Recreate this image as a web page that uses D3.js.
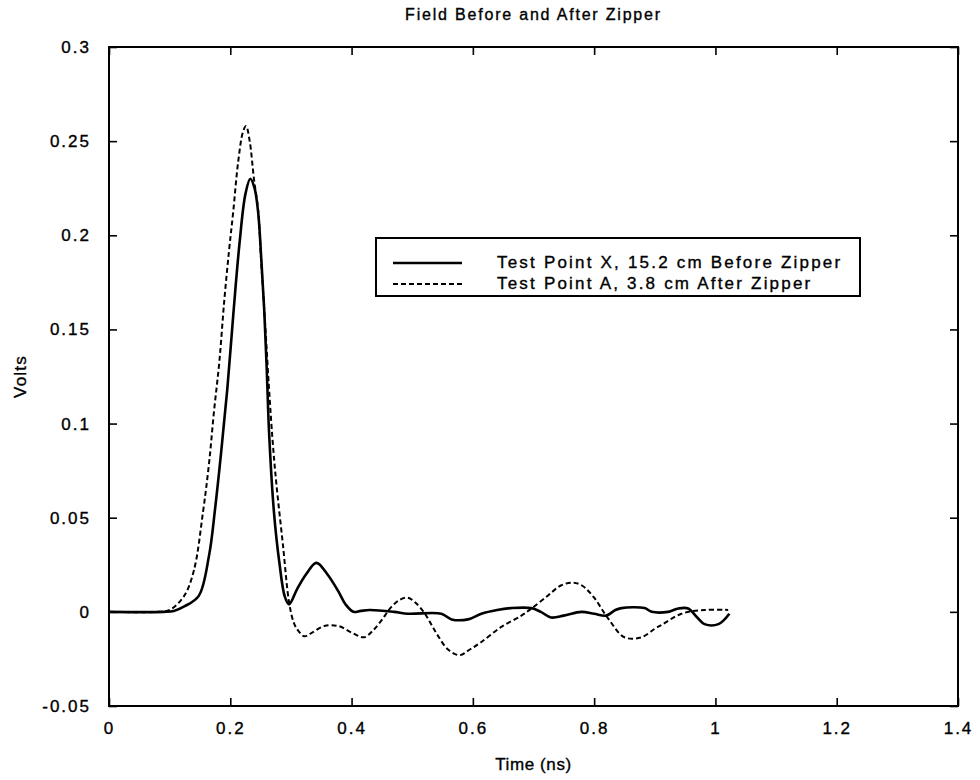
<!DOCTYPE html>
<html>
<head>
<meta charset="utf-8">
<script src="https://cdn.jsdelivr.net/npm/d3@7"></script>
<style>
  body { margin: 0; background: #fff; }
  text { font-family: "Liberation Sans", Arial, sans-serif; fill: #000; stroke: #000; stroke-width: 0.35px; }
</style>
</head>
<body>
<div id="chart"></div>
<script>
// Test Point X (solid), 15.2 cm before zipper
const timeX = [0, 0.09, 0.107, 0.125, 0.148, 0.165, 0.175, 0.185, 0.195, 0.205, 0.215, 0.225, 0.233, 0.24, 0.246, 0.251, 0.256, 0.26, 0.264, 0.272, 0.281, 0.29, 0.297, 0.31, 0.325, 0.342, 0.36, 0.378, 0.39, 0.403, 0.415, 0.43, 0.47, 0.493, 0.548, 0.565, 0.592, 0.614, 0.64, 0.663, 0.696, 0.712, 0.729, 0.75, 0.779, 0.8, 0.82, 0.835, 0.845, 0.883, 0.895, 0.922, 0.939, 0.955, 0.97, 0.982, 1.005, 1.023];
const voltsX = [0, 0, 0.0005, 0.003, 0.0085, 0.030, 0.055, 0.085, 0.118, 0.158, 0.195, 0.222, 0.230, 0.225, 0.212, 0.188, 0.160, 0.130, 0.095, 0.053, 0.026, 0.008, 0.004, 0.012, 0.020, 0.026, 0.020, 0.011, 0.004, 0.000, 0.0005, 0.001, 0.000, -0.001, -0.001, -0.004, -0.004, -0.001, 0.001, 0.002, 0.002, 0, -0.003, -0.002, 0, -0.001, -0.002, 0.001, 0.002, 0.002, 0, 0, 0.0018, 0.0018, -0.003, -0.0065, -0.0065, -0.001];

// Test Point A (dashed), 3.8 cm after zipper
const timeA = [0, 0.08, 0.1, 0.124, 0.14, 0.155, 0.165, 0.173, 0.182, 0.19, 0.198, 0.205, 0.213, 0.221, 0.226, 0.232, 0.239, 0.246, 0.251, 0.258, 0.264, 0.27, 0.276, 0.287, 0.297, 0.305, 0.312, 0.322, 0.335, 0.355, 0.378, 0.4, 0.421, 0.435, 0.449, 0.465, 0.48, 0.493, 0.505, 0.52, 0.532, 0.543, 0.559, 0.578, 0.595, 0.614, 0.647, 0.68, 0.696, 0.724, 0.745, 0.765, 0.78, 0.8, 0.823, 0.85, 0.878, 0.9, 0.911, 0.944, 0.982, 1.021];
const voltsA = [0, 0, 0.001, 0.0085, 0.022, 0.053, 0.079, 0.106, 0.133, 0.165, 0.192, 0.213, 0.239, 0.255, 0.258, 0.250, 0.230, 0.213, 0.186, 0.150, 0.118, 0.090, 0.068, 0.035, 0.005, -0.006, -0.010, -0.013, -0.011, -0.0075, -0.0075, -0.011, -0.0135, -0.010, -0.0047, 0.0024, 0.0065, 0.0075, 0.005, -0.0005, -0.007, -0.013, -0.020, -0.023, -0.020, -0.016, -0.008, -0.002, 0.0016, 0.0087, 0.014, 0.0155, 0.014, 0.0075, -0.0035, -0.0135, -0.0135, -0.009, -0.007, -0.001, 0.001, 0.001];

const xTicks = [0, 0.2, 0.4, 0.6, 0.8, 1, 1.2, 1.4];
const yTicks = [-0.05, 0, 0.05, 0.1, 0.15, 0.2, 0.25, 0.3];
const legendLabels = ["Test Point X, 15.2 cm Before Zipper", "Test Point A, 3.8 cm After Zipper"];

const W = 980, H = 780;
const margin = {top: 47, right: 22, bottom: 74, left: 109};
const width = W - margin.left - margin.right;
const height = H - margin.top - margin.bottom;

const svg = d3.select("#chart").append("svg")
    .attr("width", W)
    .attr("height", H);

const g = svg.append("g")
    .attr("transform", `translate(${margin.left},${margin.top})`);

const x = d3.scaleLinear().domain([0, 1.4]).range([0, width]);
const y = d3.scaleLinear().domain([-0.05, 0.3]).range([height, 0]);

const fmt = d => String(+d.toFixed(2));
const tickLen = 8;

// frame
g.append("rect")
    .attr("width", width).attr("height", height)
    .attr("fill", "none").attr("stroke", "#000").attr("stroke-width", 2);

// axes with inward ticks
const styleAxis = sel => {
  sel.select(".domain").remove();
  sel.selectAll(".tick line").attr("stroke", "#000").attr("stroke-width", 1.6);
  sel.selectAll(".tick text")
     .style("font-size", "17px").style("letter-spacing", "2px");
};

g.append("g").attr("transform", `translate(0,${height})`)
  .call(d3.axisBottom(x).tickValues(xTicks).tickFormat(fmt).tickSizeInner(-tickLen).tickPadding(tickLen + 8))
  .call(styleAxis);
g.append("g")
  .call(d3.axisLeft(y).tickValues(yTicks).tickFormat(fmt).tickSizeInner(-tickLen).tickPadding(tickLen + 10))
  .call(styleAxis);
g.append("g")
  .call(d3.axisTop(x).tickValues(xTicks).tickFormat("").tickSizeInner(-tickLen))
  .call(styleAxis);
g.append("g").attr("transform", `translate(${width},0)`)
  .call(d3.axisRight(y).tickValues(yTicks).tickFormat("").tickSizeInner(-tickLen))
  .call(styleAxis);

// curves
const line = d3.line()
    .x(d => x(d[0]))
    .y(d => y(d[1]))
    .curve(d3.curveCatmullRom.alpha(0.5));

g.append("path")
    .datum(timeA.map((t, i) => [t, voltsA[i]]))
    .attr("d", line)
    .attr("fill", "none").attr("stroke", "#000")
    .attr("stroke-width", 2).attr("stroke-dasharray", "5,3");

g.append("path")
    .datum(timeX.map((t, i) => [t, voltsX[i]]))
    .attr("d", line)
    .attr("fill", "none").attr("stroke", "#000")
    .attr("stroke-width", 2.6);

// titles
svg.append("text")
    .attr("x", margin.left + width / 2).attr("y", 20)
    .attr("text-anchor", "middle")
    .style("font-size", "16px").style("letter-spacing", "1.8px")
    .text("Field Before and After Zipper");

svg.append("text")
    .attr("x", margin.left + width / 2).attr("y", 770)
    .attr("text-anchor", "middle")
    .style("font-size", "17px").style("letter-spacing", "0.6px")
    .text("Time (ns)");

svg.append("text")
    .attr("transform", `translate(26,${margin.top + height / 2}) rotate(-90)`)
    .attr("text-anchor", "middle")
    .style("font-size", "17px").style("letter-spacing", "1.2px")
    .text("Volts");

// legend
const lg = svg.append("g").attr("transform", "translate(376,238)");
lg.append("rect")
    .attr("width", 484).attr("height", 58)
    .attr("fill", "#fff").attr("stroke", "#000").attr("stroke-width", 2);

legendLabels.forEach((label, i) => {
  const ly = 25 + i * 21;
  lg.append("line")
      .attr("x1", 17).attr("x2", 86).attr("y1", ly).attr("y2", ly)
      .attr("stroke", "#000")
      .attr("stroke-width", i === 0 ? 2.6 : 2)
      .attr("stroke-dasharray", i === 0 ? null : "5,3");
  lg.append("text")
      .attr("x", 121).attr("y", ly + 5)
      .style("font-size", "17px").style("letter-spacing", "2.2px")
      .text(label);
});
</script>
</body>
</html>
